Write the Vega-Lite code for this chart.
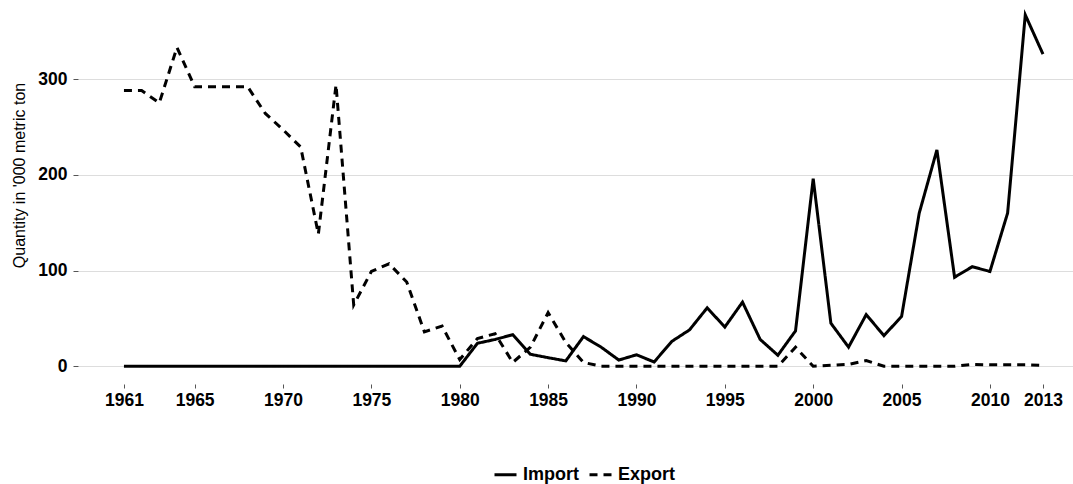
{
  "$schema": "https://vega.github.io/schema/vega-lite/v6.json",
  "autosize": {"type": "none"},
  "padding": {"left": 78, "top": 0, "right": 0, "bottom": 100},
  "width": 995,
  "height": 384,
  "background": "white",
  "config": {
    "view": {"stroke": null},
    "font": "Liberation Sans"
  },
  "datasets": {
    "import": [
      {"year":1961,"v":0},{"year":1962,"v":0},{"year":1963,"v":0},{"year":1964,"v":0},{"year":1965,"v":0},
      {"year":1966,"v":0},{"year":1967,"v":0},{"year":1968,"v":0},{"year":1969,"v":0},{"year":1970,"v":0},
      {"year":1971,"v":0},{"year":1972,"v":0},{"year":1973,"v":0},{"year":1974,"v":0},{"year":1975,"v":0},
      {"year":1976,"v":0},{"year":1977,"v":0},{"year":1978,"v":0},{"year":1979,"v":0},{"year":1980,"v":0},
      {"year":1981,"v":24},{"year":1982,"v":28},{"year":1983,"v":33},{"year":1984,"v":12.5},{"year":1985,"v":9},
      {"year":1986,"v":5.6},{"year":1987,"v":31},{"year":1988,"v":20},{"year":1989,"v":6.5},{"year":1990,"v":12},
      {"year":1991,"v":4.5},{"year":1992,"v":26},{"year":1993,"v":38},{"year":1994,"v":61},{"year":1995,"v":41},
      {"year":1996,"v":67},{"year":1997,"v":28},{"year":1998,"v":11.5},{"year":1999,"v":37},{"year":2000,"v":196},
      {"year":2001,"v":45},{"year":2002,"v":20},{"year":2003,"v":54},{"year":2004,"v":32},{"year":2005,"v":52},
      {"year":2006,"v":160},{"year":2007,"v":226},{"year":2008,"v":93},{"year":2009,"v":104},{"year":2010,"v":99},
      {"year":2011,"v":160},{"year":2012,"v":367},{"year":2013,"v":326}
    ],
    "export": [
      {"year":1961,"v":288},{"year":1962,"v":288},{"year":1963,"v":275},{"year":1964,"v":333},{"year":1965,"v":292},
      {"year":1966,"v":292},{"year":1967,"v":292},{"year":1968,"v":292},{"year":1969,"v":264},{"year":1970,"v":247},
      {"year":1971,"v":229},{"year":1972,"v":138},{"year":1973,"v":294},{"year":1974,"v":64},{"year":1975,"v":99},
      {"year":1976,"v":107},{"year":1977,"v":88},{"year":1978,"v":36},{"year":1979,"v":42},{"year":1980,"v":7},
      {"year":1981,"v":29},{"year":1982,"v":34},{"year":1983,"v":4},{"year":1984,"v":20},{"year":1985,"v":56},
      {"year":1986,"v":25},{"year":1987,"v":4},{"year":1988,"v":0},{"year":1989,"v":0},{"year":1990,"v":0},
      {"year":1991,"v":0},{"year":1992,"v":0},{"year":1993,"v":0},{"year":1994,"v":0},{"year":1995,"v":0},
      {"year":1996,"v":0},{"year":1997,"v":0},{"year":1998,"v":0},{"year":1999,"v":20},{"year":2000,"v":0},
      {"year":2001,"v":1},{"year":2002,"v":2},{"year":2003,"v":6},{"year":2004,"v":0},{"year":2005,"v":0},
      {"year":2006,"v":0},{"year":2007,"v":0},{"year":2008,"v":0},{"year":2009,"v":2},{"year":2010,"v":1.5},
      {"year":2011,"v":1.5},{"year":2012,"v":1.5},{"year":2013,"v":1}
    ]
  },
  "encoding": {
    "x": {
      "field": "year", "type": "quantitative",
      "scale": {"domain": [1958.4, 2014.7], "nice": false, "zero": false},
      "axis": {
        "title": null, "values": [1961,1965,1970,1975,1980,1985,1990,1995,2000,2005,2010,2013],
        "format": "d", "grid": false, "domain": false,
        "tickColor": "#555555", "tickSize": 4, "labelPadding": 3,
        "labelFont": "Liberation Sans", "labelFontSize": 17.5, "labelFontWeight": "bold", "labelColor": "#000000"
      }
    },
    "y": {
      "field": "v", "type": "quantitative",
      "scale": {"domain": [-18.5, 382.5], "nice": false, "zero": false},
      "axis": {
        "title": "Quantity in '000 metric ton", "values": [0,100,200,300],
        "grid": true, "gridColor": "#dddddd", "gridWidth": 1, "domain": false,
        "tickColor": "#555555", "tickSize": 5, "labelPadding": 6,
        "labelFont": "Liberation Sans", "labelFontSize": 17.5, "labelFontWeight": "bold", "labelColor": "#000000",
        "titleFont": "Liberation Sans", "titleFontSize": 16, "titleFontWeight": "normal", "titleColor": "#000000",
        "titleX": -59, "titleY": 175, "titleAngle": -90, "titleAlign": "center", "titleBaseline": "middle"
      }
    },
    "strokeDash": {
      "field": "type", "type": "nominal",
      "scale": {"domain": ["Import", "Export"], "range": [[1, 0], [8, 6]]},
      "legend": {
        "title": null, "orient": "none", "direction": "horizontal",
        "legendX": 415, "legendY": 462,
        "labelFont": "Liberation Sans", "labelFontSize": 18, "labelFontWeight": "bold", "labelColor": "#000000",
        "symbolType": "stroke", "symbolSize": 484, "symbolStrokeWidth": 3, "symbolStrokeColor": "#000000",
        "columnPadding": 4, "labelOffset": 5
      }
    }
  },
  "layer": [
    {
      "data": {"name": "import"},
      "transform": [{"calculate": "'Import'", "as": "type"}],
      "mark": {"type": "line", "color": "#000000", "strokeWidth": 3}
    },
    {
      "data": {"name": "export"},
      "transform": [{"calculate": "'Export'", "as": "type"}],
      "mark": {"type": "line", "color": "#000000", "strokeWidth": 3}
    }
  ]
}
